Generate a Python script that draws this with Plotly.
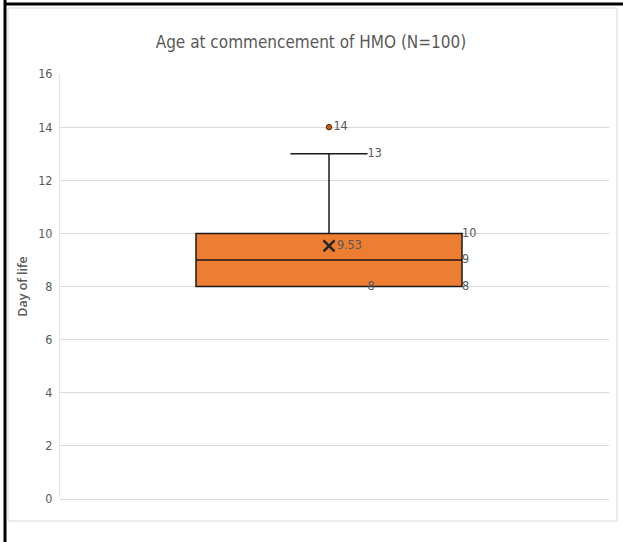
import plotly.graph_objects as go

# ---- data ----
q1 = [8]
median = [9]
q3 = [10]
lower_fence = [8]
upper_fence = [13]
mean_val = [9.53]
outliers = [14]
y_ticks = [0, 2, 4, 6, 8, 10, 12, 14, 16]
title_text = "Age at commencement of HMO (N=100)"
y_title = "Day of life"

# ---- layout constants (pixels) ----
W, H = 623, 542
L, R, T, B = 60, 14, 74, 43
PW, PH = W - L - R, H - T - B

box_w = 0.4845
whisker_w = 0.29
xc = 0.0

grey = "#595959"
narrow = "DejaVu Sans Condensed, Roboto Condensed, Roboto, sans-serif"
num_font = dict(family=narrow, size=12.5, color=grey)

fig = go.Figure()

fig.add_trace(go.Box(
    x=[xc], q1=q1, median=median, q3=q3,
    lowerfence=lower_fence, upperfence=upper_fence,
    width=box_w, whiskerwidth=whisker_w,
    fillcolor="#ED7D31", line=dict(color="#1a1a1a", width=1.5),
    boxpoints=False, showlegend=False, hoverinfo="skip",
))

# outlier
fig.add_trace(go.Scatter(
    x=[xc] * len(outliers), y=outliers, mode="markers+text",
    text=[str(v) for v in outliers], textposition="middle right",
    textfont=num_font,
    marker=dict(color="#C55A11", size=5.5, line=dict(color="#5a2a08", width=1)),
    showlegend=False, hoverinfo="skip",
))

# mean marker
fig.add_trace(go.Scatter(
    x=[xc], y=mean_val, mode="markers+text",
    text=[f"{v:.2f}" for v in mean_val], textposition="middle right",
    textfont=num_font,
    marker=dict(symbol="x-thin", size=11, line=dict(color="#262626", width=2.6)),
    showlegend=False, hoverinfo="skip",
))

# quartile labels on right edge of box
vals_right = q3 + median + q1
fig.add_trace(go.Scatter(
    x=[xc + box_w / 2] * 3, y=vals_right, mode="text",
    text=[str(v) for v in vals_right], textposition="middle right",
    textfont=num_font, showlegend=False, hoverinfo="skip",
))

# whisker labels at cap ends
cap_x = xc + whisker_w * box_w / 2
vals_caps = upper_fence + lower_fence
fig.add_trace(go.Scatter(
    x=[cap_x] * 2, y=vals_caps, mode="text",
    text=[str(v) for v in vals_caps], textposition="middle right",
    textfont=num_font, showlegend=False, hoverinfo="skip",
))

def px_x(p):
    return (p - L) / PW

def px_y(p):
    return (H - B - p) / PH

shapes = [
    # light grey chart frame
    dict(type="rect", xref="paper", yref="paper",
         x0=px_x(8), x1=px_x(617), y0=px_y(521), y1=px_y(8),
         line=dict(color="#d9d9d9", width=1), layer="below"),
    # black outer border (top and left)
    dict(type="line", xref="paper", yref="paper",
         x0=px_x(4), x1=px_x(623), y0=px_y(4), y1=px_y(4),
         line=dict(color="black", width=3)),
    dict(type="line", xref="paper", yref="paper",
         x0=px_x(5), x1=px_x(5), y0=px_y(0), y1=px_y(542),
         line=dict(color="black", width=3)),
]

fig.update_layout(
    width=W, height=H,
    margin=dict(l=L, r=R, t=T, b=B),
    paper_bgcolor="white", plot_bgcolor="white",
    title=dict(text=title_text, x=(311) / W, xanchor="center",
               y=1 - 42 / H, yanchor="middle",
               font=dict(family=narrow, size=17, color=grey)),
    xaxis=dict(range=[-0.49, 0.51], showgrid=False, zeroline=False,
               showticklabels=False, showline=False, fixedrange=True),
    yaxis=dict(range=[0, 16], tickvals=y_ticks, showgrid=True,
               gridcolor="#d9d9d9", gridwidth=1, zeroline=True,
               zerolinecolor="#d9d9d9", zerolinewidth=1,
               showline=True, linecolor="#e6e6e6", linewidth=1,
               tickfont=num_font, ticks="", ticklabelstandoff=4,
               fixedrange=True,
               title=dict(text=y_title, standoff=7,
                          font=dict(family="Open Sans", size=12.5, color=grey, weight=600))),
    shapes=shapes,
)

fig.write_html("out.html", config={"displayModeBar": False},
               post_script="document.body.style.margin='0';document.body.style.padding='0';")
